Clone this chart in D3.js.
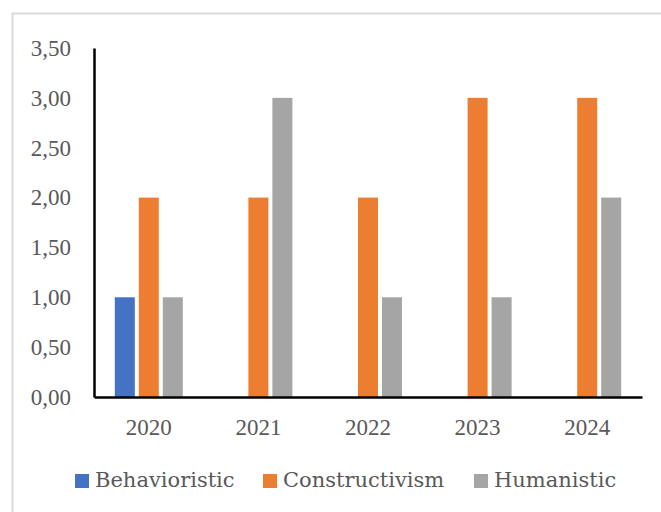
<!DOCTYPE html>
<html>
<head>
<meta charset="utf-8">
<script src="https://cdn.jsdelivr.net/npm/d3@7"></script>
<style>
  body { margin: 0; background: #fff; }
  svg { display: block; }
  text { font-family: "Palatino Linotype", "Book Antiqua", "Liberation Serif", serif; fill: #595959; }
  .legend text { font-family: "Palatino Linotype", "Book Antiqua", "DejaVu Serif", serif; }
</style>
</head>
<body>
<svg id="chart" width="661" height="512"></svg>
<script>
let years = ["2020", "2021", "2022", "2023", "2024"];
let seriesNames = ["Behavioristic", "Constructivism", "Humanistic"];
let colors = ["#4472c4", "#ed7d31", "#a5a5a5"];
let behavioristic = [1, 0, 0, 0, 0];
let constructivism = [2, 2, 2, 3, 3];
let humanistic = [1, 3, 1, 1, 2];
let yTicks = [0, 0.5, 1, 1.5, 2, 2.5, 3, 3.5];

let svg = d3.select("#chart");
let plotLeft = 94, plotRight = 642, plotTop = 48, plotBottom = 397;
let fontSize = 23;

// outer frame (only top and left visible in the crop)
svg.append("path")
    .attr("d", "M12.5,512 V13.5 H661")
    .attr("fill", "none")
    .attr("stroke", "#d9d9d9")
    .attr("stroke-width", 2);

let x = d3.scaleBand().domain(years).range([plotLeft, plotRight]);
let y = d3.scaleLinear().domain([0, 3.5]).range([plotBottom, plotTop]);
let barW = 20, gap = 4;

let rows = years.map((yr, i) => ({
    year: yr,
    values: [behavioristic[i], constructivism[i], humanistic[i]]
}));

let groups = svg.selectAll("g.year").data(rows).enter().append("g").attr("class", "year");
groups.selectAll("rect")
    .data(d => d.values.map((v, k) => ({ year: d.year, v: v, k: k })))
    .enter().append("rect")
    .attr("x", d => x(d.year) + x.bandwidth() / 2 + (d.k - 1) * (barW + gap) - barW / 2)
    .attr("width", barW)
    .attr("y", d => y(d.v))
    .attr("height", d => plotBottom - y(d.v))
    .attr("fill", d => colors[d.k]);

// axes
let fmt = d => d3.format(".2f")(d).replace(".", ",");
let yAxis = svg.append("g")
    .attr("transform", "translate(" + plotLeft + ",0)")
    .call(d3.axisLeft(y).tickValues(yTicks).tickFormat(fmt).tickSize(0).tickPadding(23));
yAxis.select(".domain").attr("stroke", "#000").attr("stroke-width", 2.5);
yAxis.selectAll("text").attr("font-size", fontSize).attr("font-family", null).style("fill", "#595959");

let xAxis = svg.append("g")
    .attr("transform", "translate(0," + plotBottom + ")")
    .call(d3.axisBottom(x).tickSize(0).tickPadding(22));
xAxis.select(".domain").attr("stroke", "#000").attr("stroke-width", 2.5);
xAxis.selectAll("text").attr("font-size", fontSize).attr("font-family", null).style("fill", "#595959");

// legend
let legendX = [75, 263, 474];
let legend = svg.selectAll("g.legend").data(seriesNames).enter().append("g")
    .attr("class", "legend")
    .attr("transform", (d, i) => "translate(" + legendX[i] + ",474)");
legend.append("rect").attr("width", 14).attr("height", 14).attr("fill", (d, i) => colors[i]);
legend.append("text").attr("x", 20).attr("y", 13).attr("font-size", 21).text(d => d);
</script>
</body>
</html>
